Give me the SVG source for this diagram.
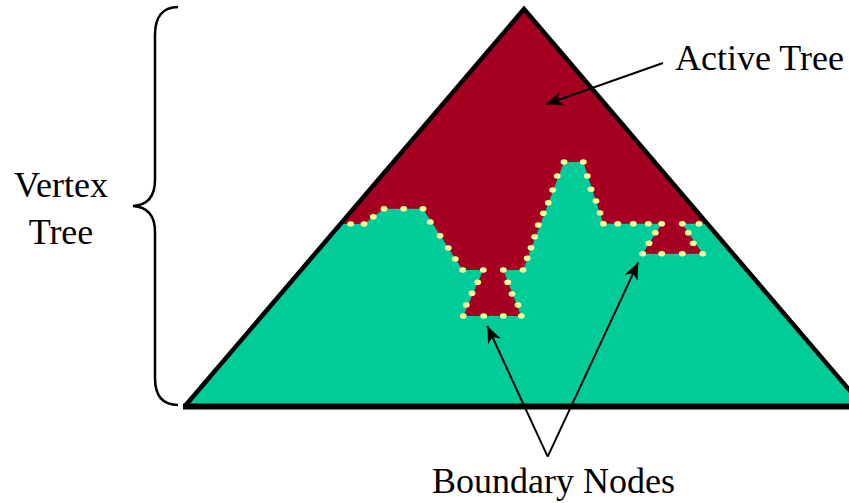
<svg xmlns="http://www.w3.org/2000/svg" width="849" height="503" viewBox="0 0 849 503">
<style>
.lbl{font-family:"Liberation Serif","Times New Roman",serif;font-size:36px;fill:#000}
.dot{fill:#FFFF99}
.conn{stroke:#000;stroke-width:2;fill:none}
</style>
<defs>
<marker id="ah" markerUnits="userSpaceOnUse" viewBox="-18 -8 20 16" refX="0" refY="0" markerWidth="20" markerHeight="16" orient="auto">
<path d="M0,0 L-17,-7 L-12,0 L-17,7 Z" fill="#000"/>
</marker>
</defs>
<rect width="849" height="503" fill="#fff"/>
<g id="vertex-tree">
<polygon points="524,9 185,406 863,406" fill="#00CC99"/>
</g>
<g id="active-tree">
<polygon points="524,9 340.4,224 350.7,224 364,224 384,208.7 423,208.7 462.7,270 483.3,270 463.3,316 521.3,316 503.3,270 523,270 564,162 583.3,162 603.3,223.7 661.7,223.7 642.7,253.7 702.7,253.7 682.3,223.7 707.6,223.7" fill="#A50021"/>
</g>
<g id="triangle-outline">
<polyline points="185,406 524,9 863,406" fill="none" stroke="#000" stroke-width="4.5" stroke-linejoin="miter"/>
<line x1="183" y1="406.5" x2="849" y2="406.5" stroke="#000" stroke-width="6"/>
</g>
<g id="boundary-nodes">
<ellipse class="dot" cx="350.7" cy="224" rx="3.4" ry="2.8"/>
<ellipse class="dot" cx="364" cy="224" rx="3.4" ry="2.8"/>
<ellipse class="dot" cx="373.3" cy="216.7" rx="3.4" ry="2.8"/>
<ellipse class="dot" cx="384" cy="208.7" rx="3.4" ry="2.8"/>
<ellipse class="dot" cx="403.7" cy="208.7" rx="3.4" ry="2.8"/>
<ellipse class="dot" cx="423" cy="208.7" rx="3.4" ry="2.8"/>
<ellipse class="dot" cx="430.3" cy="222" rx="3.4" ry="2.8"/>
<ellipse class="dot" cx="440" cy="235.7" rx="3.4" ry="2.8"/>
<ellipse class="dot" cx="448.3" cy="248" rx="3.4" ry="2.8"/>
<ellipse class="dot" cx="455.3" cy="259" rx="3.4" ry="2.8"/>
<ellipse class="dot" cx="462.7" cy="270" rx="3.4" ry="2.8"/>
<ellipse class="dot" cx="483.3" cy="270" rx="3.4" ry="2.8"/>
<ellipse class="dot" cx="503.3" cy="270" rx="3.4" ry="2.8"/>
<ellipse class="dot" cx="523" cy="270" rx="3.4" ry="2.8"/>
<ellipse class="dot" cx="527.2" cy="258.3" rx="3.4" ry="2.8"/>
<ellipse class="dot" cx="531" cy="247.7" rx="3.4" ry="2.8"/>
<ellipse class="dot" cx="534.7" cy="236.7" rx="3.4" ry="2.8"/>
<ellipse class="dot" cx="538.3" cy="225" rx="3.4" ry="2.8"/>
<ellipse class="dot" cx="543.3" cy="213.3" rx="3.4" ry="2.8"/>
<ellipse class="dot" cx="548.3" cy="202.7" rx="3.4" ry="2.8"/>
<ellipse class="dot" cx="552.7" cy="190" rx="3.4" ry="2.8"/>
<ellipse class="dot" cx="557.3" cy="176" rx="3.4" ry="2.8"/>
<ellipse class="dot" cx="564" cy="162" rx="3.4" ry="2.8"/>
<ellipse class="dot" cx="583.3" cy="162" rx="3.4" ry="2.8"/>
<ellipse class="dot" cx="587.3" cy="176" rx="3.4" ry="2.8"/>
<ellipse class="dot" cx="591" cy="189.3" rx="3.4" ry="2.8"/>
<ellipse class="dot" cx="596" cy="201" rx="3.4" ry="2.8"/>
<ellipse class="dot" cx="600" cy="213" rx="3.4" ry="2.8"/>
<ellipse class="dot" cx="603.3" cy="223.7" rx="3.4" ry="2.8"/>
<ellipse class="dot" cx="617.7" cy="223.7" rx="3.4" ry="2.8"/>
<ellipse class="dot" cx="633.3" cy="223.7" rx="3.4" ry="2.8"/>
<ellipse class="dot" cx="648.3" cy="223.7" rx="3.4" ry="2.8"/>
<ellipse class="dot" cx="661.7" cy="223.7" rx="3.4" ry="2.8"/>
<ellipse class="dot" cx="682.3" cy="223.7" rx="3.4" ry="2.8"/>
<ellipse class="dot" cx="699" cy="223.7" rx="3.4" ry="2.8"/>
<ellipse class="dot" cx="477.7" cy="282.3" rx="3.4" ry="2.8"/>
<ellipse class="dot" cx="472" cy="293.3" rx="3.4" ry="2.8"/>
<ellipse class="dot" cx="466.3" cy="305" rx="3.4" ry="2.8"/>
<ellipse class="dot" cx="463.3" cy="316" rx="3.4" ry="2.8"/>
<ellipse class="dot" cx="483.7" cy="316" rx="3.4" ry="2.8"/>
<ellipse class="dot" cx="503.3" cy="316" rx="3.4" ry="2.8"/>
<ellipse class="dot" cx="521.3" cy="316" rx="3.4" ry="2.8"/>
<ellipse class="dot" cx="518" cy="305" rx="3.4" ry="2.8"/>
<ellipse class="dot" cx="512" cy="294" rx="3.4" ry="2.8"/>
<ellipse class="dot" cx="507.7" cy="282.3" rx="3.4" ry="2.8"/>
<ellipse class="dot" cx="655.3" cy="232.7" rx="3.4" ry="2.8"/>
<ellipse class="dot" cx="649" cy="243.3" rx="3.4" ry="2.8"/>
<ellipse class="dot" cx="642.7" cy="253.7" rx="3.4" ry="2.8"/>
<ellipse class="dot" cx="661.7" cy="253.7" rx="3.4" ry="2.8"/>
<ellipse class="dot" cx="682.3" cy="253.7" rx="3.4" ry="2.8"/>
<ellipse class="dot" cx="702.7" cy="253.7" rx="3.4" ry="2.8"/>
<ellipse class="dot" cx="688.3" cy="232.7" rx="3.4" ry="2.8"/>
<ellipse class="dot" cx="693.3" cy="243.3" rx="3.4" ry="2.8"/>
</g>
<g id="brace">
<path d="M178,7 C162,7 155,18 155,35 L155,180 C155,196 148,205 133,206 C148,207 155,216 155,232 L155,378 C155,395 162,405 178,405" fill="none" stroke="#000" stroke-width="2.5"/>
</g>
<g id="connectors">
<line class="conn" x1="663" y1="63" x2="546" y2="104.3" marker-end="url(#ah)"/>
<line class="conn" x1="547.7" y1="456.7" x2="487.3" y2="326" marker-end="url(#ah)"/>
<line class="conn" x1="547.7" y1="456.7" x2="638.3" y2="262.3" marker-end="url(#ah)"/>
</g>
<g id="labels">
<text class="lbl" x="61" y="196.5" text-anchor="middle">Vertex</text>
<text class="lbl" x="61" y="243.5" text-anchor="middle">Tree</text>
<text class="lbl" x="675" y="70">Active Tree</text>
<text class="lbl" x="432" y="493">Boundary Nodes</text>
</g>
</svg>
